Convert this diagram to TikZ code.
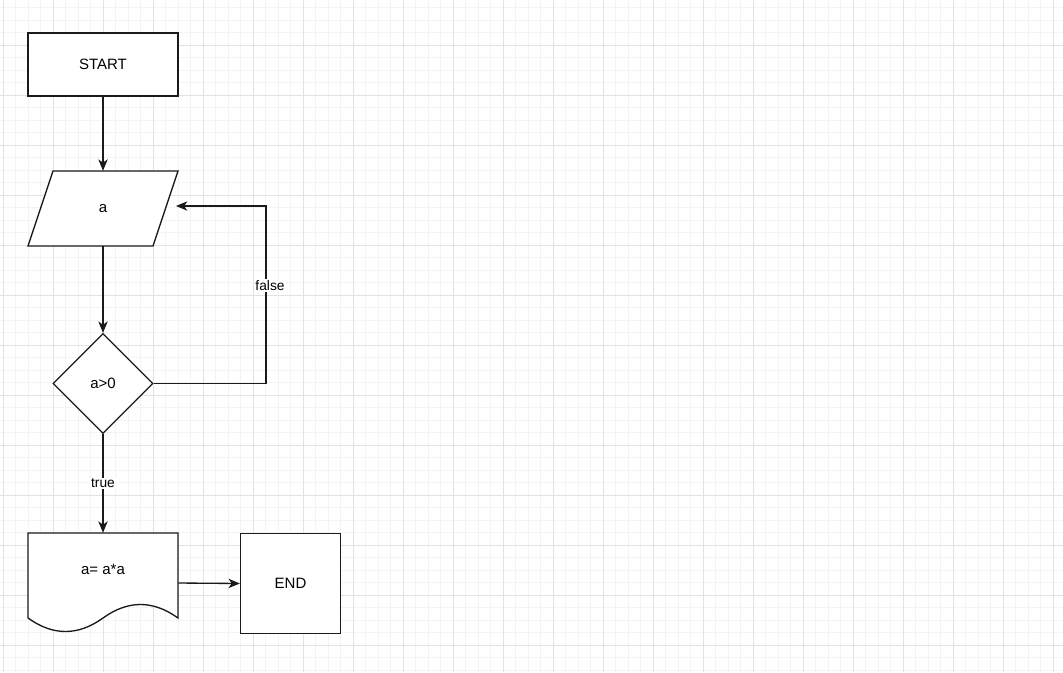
\documentclass[tikz,border=0pt]{standalone}
\usepackage{fontspec}
\setmainfont{Liberation Sans}
\usetikzlibrary{arrows.meta,shapes.geometric,calc}

\definecolor{gridminor}{HTML}{F4F4F4}
\definecolor{gridmajor}{HTML}{E2E2E2}
\definecolor{edgecol}{HTML}{1A1A1A}

\tikzset{
  box/.style={draw=edgecol, line width=1pt, fill=white, inner sep=0pt,
              font=\fontsize{11.25}{13}\selectfont},
  conn/.style={draw=edgecol, line width=1pt,
               -{Stealth[length=8.5pt, width=7pt, inset=2.4pt]}},
  edgelabel/.style={fill=white, inner sep=1pt, text=black,
                    font=\fontsize{10.3}{12}\selectfont},
}

\begin{document}
\begin{tikzpicture}[x=0.75pt, y=-0.75pt]
  % canvas and background grid
  \useasboundingbox (0,0) rectangle (1063,672);
  \fill[white] (0,0) rectangle (1063,672);
  \begin{scope}
    \clip (0,0) rectangle (1063,672);
    \foreach \i in {0,...,86} {
      \draw[gridminor, line width=0.75pt] ({-9.5+12.5*\i},0) -- ({-9.5+12.5*\i},672);
    }
    \foreach \j in {0,...,54} {
      \draw[gridminor, line width=0.75pt] (0,{-5+12.5*\j}) -- (1063,{-5+12.5*\j});
    }
    \foreach \i in {0,...,21} {
      \draw[gridmajor, line width=0.75pt] ({3+50*\i},0) -- ({3+50*\i},672);
    }
    \foreach \j in {0,...,13} {
      \draw[gridmajor, line width=0.75pt] (0,{45+50*\j}) -- (1063,{45+50*\j});
    }
  \end{scope}

  % START
  \node[box, minimum width=112.5pt, minimum height=47.25pt] (start) at (103,64.5) {START};

  % input parallelogram
  \draw[edgecol, line width=1pt, fill=white]
    (53,171) -- (178,171) -- (153,246) -- (28,246) -- cycle;
  \node[font=\fontsize{11.25}{13}\selectfont, inner sep=0pt,
        minimum width=93.75pt, minimum height=56.25pt] (in) at (103,208.5) {a};
  \coordinate (inback) at (176,206);

  % decision
  \node[box, diamond, aspect=1, minimum width=75pt, minimum height=75pt] (cond) at (103,383.5) {a>0};

  % document (process)
  \draw[edgecol, line width=1pt, fill=white]
    (28,533) -- (178,533) -- (178,618)
    .. controls (153,600) and (128,600) .. (103,618)
    .. controls (78,636) and (53,636) .. (28,618) -- cycle;
  \node[font=\fontsize{11.25}{13}\selectfont, inner sep=0pt,
        minimum width=112.5pt, minimum height=75pt] (proc) at (103,583) {};
  \node[font=\fontsize{11.25}{13}\selectfont, inner sep=0pt] (proctext) at (103,569) {a= a*a};

  % END
  \node[box, minimum width=75pt, minimum height=75pt] (end) at (290.5,583.5) {END};

  % connectors
  \draw[conn] (start.south) -- (in.north);
  \draw[conn] (in.south) -- (cond.north);
  \draw[conn] (cond.east) -| (266,206) node[pos=0.777, edgelabel, xshift=3pt] {false} -- (inback);
  \draw[conn] (cond.south) -- node[edgelabel] {true} (proc.north);
  \draw[conn] (proc.east) -- (end.west);
\end{tikzpicture}
\end{document}
